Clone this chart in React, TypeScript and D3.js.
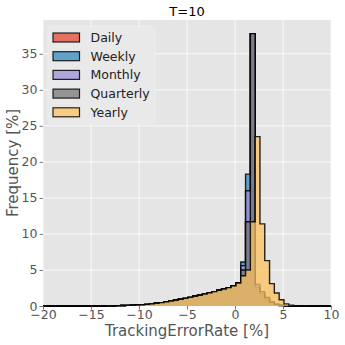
import React, { useEffect, useRef } from "react";
import * as d3 from "d3";

// histogram bins: left edge of first bin and bin width (in %)
const binStart = -13.4;
const binWidth = 0.5;

// left tail is shared by every series (the outlines coincide there)
const sharedTail = [
  0.02, 0.03, 0.05, 0.06, 0.08, 0.1, 0.13, 0.17, 0.22, 0.3, 0.38, 0.47, 0.57,
  0.68, 0.8, 0.93, 1.06, 1.2, 1.35, 1.5, 1.65, 1.82, 2.0, 2.18, 2.36, 2.55, 2.8,
];

const dailyPeak = [3.2, 5.0, 11.7, 37.8, 2.0, 1.3, 0.8, 0.35, 0.15, 0.06, 0.03, 0.01, 0, 0, 0, 0];
const weeklyPeak = [3.2, 6.1, 18.3, 37.8, 2.3, 1.5, 0.9, 0.4, 0.18, 0.07, 0.03, 0.01, 0, 0, 0, 0];
const monthlyPeak = [3.2, 5.6, 16.0, 37.8, 2.6, 1.7, 1.0, 0.5, 0.2, 0.08, 0.03, 0.01, 0, 0, 0, 0];
const quarterlyPeak = [3.2, 5.0, 11.7, 37.8, 3.0, 2.0, 1.2, 0.6, 0.25, 0.1, 0.03, 0.01, 0, 0, 0, 0];
const yearlyPeak = [3.2, 4.2, 5.0, 11.7, 23.5, 11.4, 6.3, 3.1, 1.8, 0.86, 0.3, 0.12, 0.05, 0.03, 0.02, 0.01];

const seriesNames = ["Daily", "Weekly", "Monthly", "Quarterly", "Yearly"];
const seriesColors = ["#E24A33", "#348ABD", "#988ED5", "#777777", "#FBC15E"];
const seriesPeaks = [dailyPeak, weeklyPeak, monthlyPeak, quarterlyPeak, yearlyPeak];

const xTicks = [-20, -15, -10, -5, 0, 5, 10];
const yTicks = [0, 5, 10, 15, 20, 25, 30, 35];

const width = 345;
const height = 345;
const margin = { top: 20, right: 14, bottom: 39, left: 43 };
const font = "DejaVu Sans, sans-serif";
const tickColor = "#555555";

const App = () => {
  const ref = useRef<SVGSVGElement>(null);

  useEffect(() => {
    const svg = d3.select(ref.current);
    svg.selectAll("*").remove();

    const x = d3
      .scaleLinear()
      .domain([-20, 10])
      .range([margin.left, width - margin.right]);

    const yMax = 37.8 * 1.05;
    const y = d3
      .scaleLinear()
      .domain([0, yMax])
      .range([height - margin.bottom, margin.top]);

    // plot background
    svg
      .append("rect")
      .attr("x", x(-20))
      .attr("y", y(yMax))
      .attr("width", x(10) - x(-20))
      .attr("height", y(0) - y(yMax))
      .attr("fill", "#E5E5E5");

    svg
      .append("defs")
      .append("clipPath")
      .attr("id", "plotClip")
      .append("rect")
      .attr("x", x(-20))
      .attr("y", y(yMax) - 2)
      .attr("width", x(10) - x(-20))
      .attr("height", y(0) - y(yMax) + 4);

    // grid
    svg
      .append("g")
      .selectAll("line")
      .data(xTicks)
      .join("line")
      .attr("x1", (d) => x(d))
      .attr("x2", (d) => x(d))
      .attr("y1", y(0))
      .attr("y2", y(yMax))
      .attr("stroke", "white")
      .attr("stroke-width", 0.8);

    svg
      .append("g")
      .selectAll("line")
      .data(yTicks)
      .join("line")
      .attr("x1", x(-20))
      .attr("x2", x(10))
      .attr("y1", (d) => y(d))
      .attr("y2", (d) => y(d))
      .attr("stroke", "white")
      .attr("stroke-width", 0.8);

    // histograms (stepfilled)
    const stepPath = (values: number[]) => {
      const p = d3.path();
      p.moveTo(x(-20), y(0));
      p.lineTo(x(binStart), y(0));
      values.forEach((v, i) => {
        const x0 = binStart + i * binWidth;
        p.lineTo(x(x0), y(v));
        p.lineTo(x(x0 + binWidth), y(v));
      });
      p.lineTo(x(binStart + values.length * binWidth), y(0));
      p.lineTo(x(10), y(0));
      return p.toString();
    };

    const hist = svg.append("g").attr("clip-path", "url(#plotClip)");
    seriesPeaks.forEach((peak, i) => {
      hist
        .append("path")
        .attr("d", stepPath([...sharedTail, ...peak]))
        .attr("fill", seriesColors[i])
        .attr("fill-opacity", 0.75)
        .attr("stroke", "black")
        .attr("stroke-opacity", 0.85)
        .attr("stroke-width", 1.4)
        .attr("stroke-linejoin", "miter");
    });

    // axes
    const xAxis = svg
      .append("g")
      .attr("transform", `translate(0,${y(0)})`)
      .call(
        d3
          .axisBottom(x)
          .tickValues(xTicks)
          .tickSize(3.5)
          .tickPadding(0.5)
          .tickFormat((d) => d3.format("d")(d as number).replace("-", "\u2212"))
      );
    xAxis.select(".domain").remove();

    const yAxis = svg
      .append("g")
      .attr("transform", `translate(${x(-20)},0)`)
      .call(d3.axisLeft(y).tickValues(yTicks).tickSize(3.5).tickPadding(2));
    yAxis.select(".domain").remove();

    [xAxis, yAxis].forEach((g) => {
      g.selectAll("line").attr("stroke", tickColor).attr("stroke-width", 0.8);
      g.selectAll("text")
        .attr("fill", tickColor)
        .attr("font-family", font)
        .attr("font-size", 12.5);
    });

    // labels
    svg
      .append("text")
      .attr("x", (x(-20) + x(10)) / 2)
      .attr("y", 335.5)
      .attr("text-anchor", "middle")
      .attr("font-family", font)
      .attr("font-size", 15)
      .attr("fill", tickColor)
      .text("TrackingErrorRate [%]");

    svg
      .append("text")
      .attr("transform", `translate(18,${(y(0) + y(yMax)) / 2}) rotate(-90)`)
      .attr("text-anchor", "middle")
      .attr("font-family", font)
      .attr("font-size", 15)
      .attr("fill", tickColor)
      .text("Frequency [%]");

    svg
      .append("text")
      .attr("x", (x(-20) + x(10)) / 2)
      .attr("y", 16)
      .attr("text-anchor", "middle")
      .attr("font-family", font)
      .attr("font-size", 13)
      .attr("fill", "black")
      .text("T=10");

    // legend
    const legend = svg.append("g").attr("transform", `translate(${x(-20) + 5},${y(yMax) + 6.5})`);
    legend
      .append("rect")
      .attr("width", 107)
      .attr("height", 97)
      .attr("rx", 3)
      .attr("fill", "#E9E9E9")
      .attr("stroke", "#EEEEEE")
      .attr("stroke-width", 1);

    const rows = legend
      .selectAll("g")
      .data(seriesNames)
      .join("g")
      .attr("transform", (_, i) => `translate(5,${11 + i * 18.7})`);

    rows
      .append("rect")
      .attr("x", 0)
      .attr("y", -4.5)
      .attr("width", 26.5)
      .attr("height", 9)
      .attr("fill", (_, i) => seriesColors[i])
      .attr("fill-opacity", 0.75)
      .attr("stroke", "black")
      .attr("stroke-opacity", 0.85)
      .attr("stroke-width", 1.2);

    rows
      .append("text")
      .attr("x", 37.5)
      .attr("y", 4.5)
      .attr("font-family", font)
      .attr("font-size", 12.5)
      .attr("fill", "#222222")
      .text((d) => d);
  }, []);

  return (
    <svg
      ref={ref}
      width={width}
      height={height}
      style={{ position: "absolute", left: 0, top: 0, background: "white" }}
    ></svg>
  );
};

export default App;
